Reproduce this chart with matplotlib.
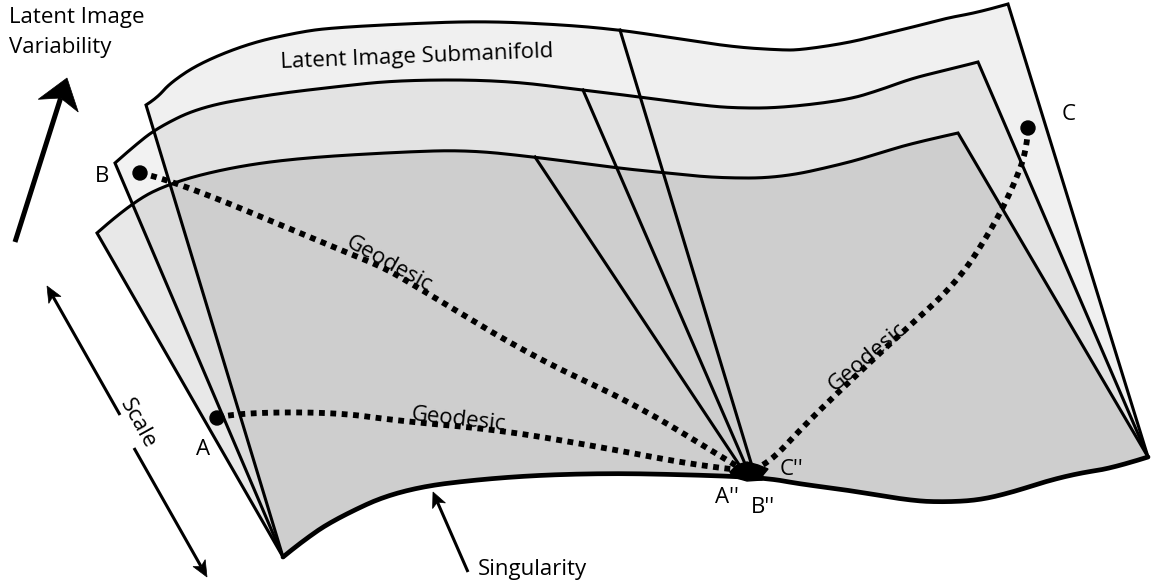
import numpy as np
import matplotlib.pyplot as plt
from matplotlib.patches import Polygon, Circle

plt.rcParams['font.family'] = ['Open Sans', 'DejaVu Sans']

# Wspolrzedne w pikselach obrazu (y w dol)
szer, wys = 1151, 585

lewyRog = (283, 557)
prawyRog = (1148, 457)

# gorne krawedzie arkuszy (tyl, srodek, przod)
gornaTyl = [(146, 105), (157, 98), (170, 83), (200, 63), (250, 43), (300, 32), (330, 28),
            (400, 24), (483, 21), (567, 25), (620, 30), (667, 37), (733, 47), (780, 50),
            (800, 50), (847, 43), (880, 35), (913, 27), (947, 18), (980, 12), (1008, 4)]
gornaSrodek = [(115, 163), (133, 147), (157, 128), (200, 107), (267, 95), (333, 87), (400, 80),
               (500, 80), (583, 90), (640, 97), (700, 105), (733, 108), (780, 108), (847, 100),
               (880, 90), (913, 78), (947, 70), (978, 62)]
gornaPrzod = [(97, 233), (132, 202), (173, 182), (233, 167), (300, 158), (400, 152), (467, 150),
              (535, 157), (617, 168), (667, 173), (717, 178), (780, 178), (847, 163), (880, 153),
              (913, 143), (958, 133)]

# osobliwosc - wspolna dolna krawedz
dolna = [(283, 557), (300, 543), (333, 520), (400, 489), (500, 477), (600, 473), (700, 475),
         (767, 478), (800, 484), (847, 490), (913, 501), (947, 502), (980, 500), (1013, 492),
         (1047, 481), (1080, 473), (1113, 468), (1148, 457)]

# zagiecia zbiegajace sie w A''B''
zagieciaGora = [(620, 30), (583, 90), (535, 157)]
zagieciaDol = [(752, 466), (746, 466), (740, 466)]

# geodezyjne
geodezyjnaB = [(140, 173), (173, 180), (333, 247), (383, 267), (417, 287), (533, 357),
               (633, 403), (727, 460), (740, 468)]
geodezyjnaA = [(217, 418), (233, 413), (333, 412), (400, 421), (500, 430), (600, 447),
               (700, 466), (740, 470)]
geodezyjnaC = [(1028, 128), (1027, 150), (1013, 187), (993, 227), (957, 283), (897, 337),
               (830, 400), (800, 430), (770, 462), (757, 468)]
punkty = {'A': (217, 418), 'B': (140, 173), 'C': (1028, 128)}
plama = [(730, 472), (737, 465), (747, 462), (758, 465), (768, 469), (763, 475), (762, 480),
         (747, 481), (733, 477)]

# arkusze: przezroczystosc czarnego wypelnienia
alfyArkuszy = [0.06, 0.05, 0.092]


def gladka(pts, n=20):
    p = np.asarray(pts, float)
    if len(p) < 3:
        return p
    kotwice = [p[0]] + [(p[k] + p[k + 1]) / 2 for k in range(1, len(p) - 2)] + [p[-1]]
    t = np.linspace(0, 1, n)[:, None]
    wynik = [p[:1]]
    for k in range(1, len(p) - 1):
        a, c, b = kotwice[k - 1], p[k], kotwice[k]
        wynik.append(((1 - t) ** 2 * a + 2 * (1 - t) * t * c + t ** 2 * b)[1:])
    return np.vstack(wynik)


def grot(ax, ogon, czubek, dl, pol, wciecie, lw):
    ogon, czubek = np.array(ogon, float), np.array(czubek, float)
    d = (czubek - ogon) / np.hypot(*(czubek - ogon))
    n = np.array([-d[1], d[0]])
    baza = czubek - dl * d
    wc = czubek - (dl - wciecie) * d
    ax.plot([ogon[0], wc[0]], [ogon[1], wc[1]], color='black', lw=lw, solid_capstyle='butt')
    ax.add_patch(Polygon([czubek, baza + pol * n, wc, baza - pol * n], closed=True,
                         facecolor='black', edgecolor='black', lw=0.5))


fig = plt.figure(figsize=(szer / 100, wys / 100), dpi=100)
ax = fig.add_axes([0, 0, 1, 1])
ax.set_xlim(0, szer)
ax.set_ylim(wys, 0)
ax.axis('off')

dolnaG = gladka(dolna)
gorne = [gornaTyl, gornaSrodek, gornaPrzod]
for gorna, alfa in zip(gorne, alfyArkuszy):
    g = gladka(gorna)
    obrys = np.vstack([g, [prawyRog], dolnaG[::-1]])
    ax.add_patch(Polygon(obrys, closed=True, facecolor='black', alpha=alfa, edgecolor='none'))

for gorna in gorne:
    g = gladka(gorna)
    linia = np.vstack([[lewyRog], g, [prawyRog]])
    ax.plot(linia[:, 0], linia[:, 1], color='black', lw=2.2, solid_joinstyle='miter')

for (x0, y0), (x1, y1) in zip(zagieciaGora, zagieciaDol):
    ax.plot([x0, x1], [y0, y1], color='black', lw=2.2)

ax.plot(dolnaG[:, 0], dolnaG[:, 1], color='black', lw=3.4, solid_capstyle='round')

for geo in [geodezyjnaB, geodezyjnaA, geodezyjnaC]:
    g = gladka(geo)
    ax.plot(g[:, 0], g[:, 1], color='black', lw=4.2, linestyle=(0, (1, 0.95)),
            dash_capstyle='butt')

for (x, y) in punkty.values():
    ax.add_patch(Circle((x, y), 7, color='black'))
ax.add_patch(Polygon(plama, closed=True, color='black'))

# strzalki
grot(ax, (15, 242), (67, 78), 29, 21, 8, 3.6)
grot(ax, (120, 415), (47, 286), 16, 7, 4, 2.2)
grot(ax, (134, 448), (207, 577), 16, 7, 4, 2.2)
grot(ax, (468, 572), (433, 492), 15, 7, 4, 2.2)

fs = 16
ax.text(9, 23, 'Latent Image', fontsize=fs, va='baseline', ha='left')
ax.text(9, 53, 'Variability', fontsize=fs, va='baseline', ha='left')
ax.text(417, 63, 'Latent Image Submanifold', fontsize=fs, rotation=2.3,
        rotation_mode='anchor', ha='center', va='baseline')
ax.text(133, 426, 'Scale', fontsize=fs, rotation=-61, rotation_mode='anchor',
        ha='center', va='baseline')
ax.text(478, 575, 'Singularity', fontsize=fs, va='baseline', ha='left')

etykiety = [('B', 102, 182), ('A', 203, 455), ('C', 1069, 120),
            ("A''", 727, 503), ("B''", 763, 513), ("C''", 792, 475)]
for t, x, y in etykiety:
    ax.text(x, y, t, fontsize=fs, ha='center', va='baseline')

geoEtykiety = [(386, 269, -29), (458, 425, -6.3), (871, 361, 40)]
for x, y, r in geoEtykiety:
    ax.text(x, y, 'Geodesic', fontsize=fs, rotation=r, rotation_mode='anchor',
            ha='center', va='baseline')

fig.savefig('out.png', dpi=100)
